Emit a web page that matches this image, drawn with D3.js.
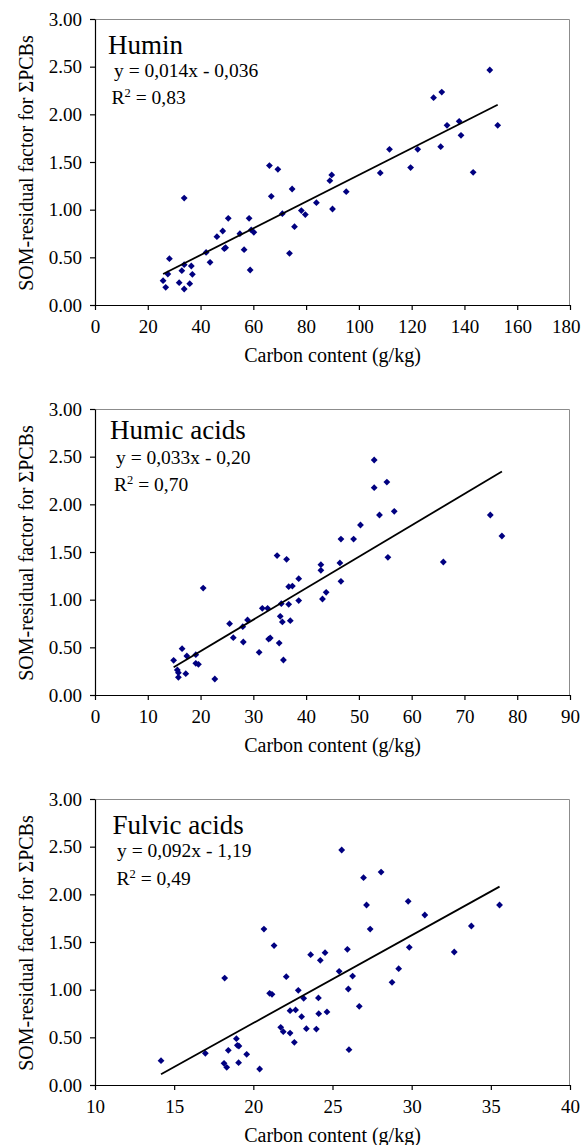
<!DOCTYPE html>
<html>
<head>
<meta charset="utf-8">
<script src="https://cdn.jsdelivr.net/npm/d3@7"></script>
<style>
  html, body { margin: 0; padding: 0; background: #fff; }
  svg { display: block; }
  text { font-family: "Liberation Serif", "Times New Roman", serif; fill: #000; }
</style>
</head>
<body>
<svg id="chart" width="581" height="1145"></svg>
<script>
// Humin fraction: carbon content (g/kg) vs SOM-residual factor
const huminX = [25.8, 26.8, 27.6, 28.2, 31.9, 32.9, 33.8, 33.8, 33.8, 35.9, 36.5, 36.9, 42.1, 43.6, 46.2, 48.4, 49.0, 49.5, 50.5, 54.9, 56.5, 58.4, 58.8, 59.2, 60.2, 66.1, 66.8, 69.3, 71.0, 73.7, 74.7, 75.6, 78.2, 79.7, 83.9, 89.0, 89.7, 90.0, 95.2, 108.1, 111.6, 119.6, 122.3, 128.3, 131.4, 131.0, 133.4, 138.0, 138.7, 143.3, 149.6, 152.6];
const huminY = [0.255, 0.185, 0.325, 0.486, 0.234, 0.36, 0.168, 0.423, 1.122, 0.224, 0.409, 0.322, 0.552, 0.448, 0.717, 0.776, 0.591, 0.601, 0.909, 0.748, 0.580, 0.909, 0.367, 0.787, 0.762, 1.462, 1.140, 1.423, 0.958, 0.542, 1.217, 0.822, 0.990, 0.948, 1.073, 1.304, 1.364, 1.007, 1.189, 1.385, 1.633, 1.441, 1.633, 2.175, 2.234, 1.661, 1.885, 1.927, 1.780, 1.392, 2.465, 1.885];

// Humic acids fraction
const humicX = [14.9, 15.6, 15.8, 15.8, 16.5, 17.2, 17.4, 19.1, 19.1, 19.6, 20.5, 22.7, 25.5, 26.2, 28.0, 28.1, 28.9, 31.1, 31.7, 32.7, 32.9, 33.2, 34.5, 34.9, 35.1, 35.3, 35.5, 35.7, 36.3, 36.7, 36.7, 37.4, 37.0, 38.6, 38.6, 42.8, 42.8, 43.1, 43.8, 46.4, 46.6, 46.6, 49.0, 50.3, 52.9, 52.9, 53.9, 55.3, 55.5, 56.7, 66.0, 74.9, 77.1];
const humicY = [0.364, 0.262, 0.234, 0.185, 0.486, 0.224, 0.409, 0.423, 0.332, 0.322, 1.122, 0.168, 0.748, 0.601, 0.717, 0.556, 0.787, 0.448, 0.909, 0.909, 0.587, 0.598, 1.462, 0.545, 0.825, 0.958, 0.766, 0.367, 1.423, 1.136, 0.951, 1.143, 0.780, 1.220, 0.990, 1.367, 1.308, 1.007, 1.077, 1.385, 1.192, 1.636, 1.636, 1.783, 2.465, 2.175, 1.888, 2.234, 1.444, 1.927, 1.395, 1.888, 1.668];

// Fulvic acids fraction
const fulvicX = [14.17, 16.97, 18.19, 18.15, 18.32, 18.42, 18.93, 18.99, 19.09, 19.07, 19.58, 20.40, 20.67, 21.03, 21.18, 21.31, 21.73, 21.89, 22.08, 22.32, 22.32, 22.59, 22.67, 22.84, 23.05, 23.18, 23.35, 23.62, 23.98, 24.11, 24.13, 24.23, 24.53, 24.65, 25.42, 25.58, 25.94, 26.00, 26.27, 26.04, 26.69, 26.96, 27.15, 27.38, 28.07, 28.76, 29.18, 29.78, 29.85, 30.83, 32.69, 33.77, 35.55];
const fulvicY = [0.255, 0.332, 1.122, 0.227, 0.185, 0.364, 0.486, 0.416, 0.409, 0.234, 0.322, 0.168, 1.636, 0.962, 0.951, 1.462, 0.605, 0.559, 1.136, 0.545, 0.780, 0.448, 0.787, 0.993, 0.717, 0.909, 0.591, 1.367, 0.587, 0.913, 0.748, 1.308, 1.388, 0.766, 1.192, 2.465, 1.423, 1.007, 1.143, 0.371, 0.825, 2.175, 1.888, 1.636, 2.234, 1.077, 1.220, 1.927, 1.444, 1.783, 1.395, 1.668, 1.888];

// Panel titles, regression coefficients and R² labels
const panelTitles = ["Humin", "Humic acids", "Fulvic acids"];
const slopes = [0.014, 0.033, 0.092];
const intercepts = [-0.036, -0.20, -1.19];
const equationLabels = ["y = 0,014x - 0,036", "y = 0,033x - 0,20", "y = 0,092x - 1,19"];
const r2Labels = ["0,83", "0,70", "0,49"];

// Axis ticks
const yTicks = [0, 0.5, 1, 1.5, 2, 2.5, 3];
const xTicksHumin = [0, 20, 40, 60, 80, 100, 120, 140, 160, 180];
const xTicksHumic = [0, 10, 20, 30, 40, 50, 60, 70, 80, 90];
const xTicksFulvic = [10, 15, 20, 25, 30, 35, 40];

const xLabel = "Carbon content (g/kg)";
const yLabel = "SOM-residual factor for \u03A3PCBs";

const panels = [
  { title: panelTitles[0], xs: huminX, ys: huminY, ticks: xTicksHumin, slope: slopes[0], intercept: intercepts[0], eq: equationLabels[0], r2: r2Labels[0],
    top: 19, titlePos: [13, 35], eqPos: [19, 57.5], r2Pos: [16.5, 85] },
  { title: panelTitles[1], xs: humicX, ys: humicY, ticks: xTicksHumic, slope: slopes[1], intercept: intercepts[1], eq: equationLabels[1], r2: r2Labels[1],
    top: 409, titlePos: [15, 30], eqPos: [21, 54.5], r2Pos: [19, 82] },
  { title: panelTitles[2], xs: fulvicX, ys: fulvicY, ticks: xTicksFulvic, slope: slopes[2], intercept: intercepts[2], eq: equationLabels[2], r2: r2Labels[2],
    top: 799, titlePos: [17.5, 35], eqPos: [22, 57.5], r2Pos: [21.5, 86] }
];

const svg = d3.select("#chart");
const width = 581;
const left = 95, plotW = 475, plotH = 286;
const fmtY = d3.format(".2f");

// Excel-style diamond marker (square rotated 45°)
const diamond = r => `M0,${-r}L${r},0L0,${r}L${-r},0Z`;

panels.forEach(p => {
  const g = svg.append("g").attr("transform", `translate(${left},${p.top})`);
  const x = d3.scaleLinear().domain(d3.extent(p.ticks)).range([0, plotW]);
  const y = d3.scaleLinear().domain([0, 3]).range([plotH, 0]);

  // plot-area frame (top and right edges)
  g.append("path")
    .attr("d", `M0,0.5H${plotW - 0.5}V${plotH}`)
    .attr("fill", "none").attr("stroke", "#8c8c8c").attr("stroke-width", 1);

  // y axis
  const yAxis = g.append("g").call(d3.axisLeft(y).tickValues(yTicks).tickFormat(fmtY).tickSizeInner(5).tickSizeOuter(0).tickPadding(8));
  // x axis
  const xAxis = g.append("g").attr("transform", `translate(0,${plotH})`)
    .call(d3.axisBottom(x).tickValues(p.ticks).tickFormat(d3.format("d")).tickSizeInner(5).tickSizeOuter(0).tickPadding(7));

  [yAxis, xAxis].forEach(a => {
    a.select(".domain").attr("stroke", "#000").attr("stroke-width", 1.2);
    a.selectAll(".tick line").attr("stroke", "#000").attr("stroke-width", 1.2);
    a.selectAll(".tick text").attr("font-size", 19).attr("fill", "#000");
  });
  xAxis.selectAll(".tick text").attr("dy", "0.85em");

  // keep the last tick label inside the canvas
  xAxis.selectAll(".tick").each(function (d) {
    const t = d3.select(this).select("text");
    const w = t.node().getComputedTextLength();
    const overflow = left + x(d) + w / 2 - (width - 1);
    if (overflow > 0) t.attr("dx", -overflow);
  });

  // points
  g.append("g").selectAll("path")
    .data(d3.range(p.xs.length))
    .join("path")
    .attr("transform", i => `translate(${x(p.xs[i])},${y(p.ys[i])})`)
    .attr("d", diamond(3.4))
    .attr("fill", "#000080");

  // linear trendline from the stated equation
  const [xMin, xMax] = d3.extent(p.xs);
  const line = d3.line().x(d => x(d)).y(d => y(p.slope * d + p.intercept));
  g.append("path")
    .attr("d", line([xMin, xMax]))
    .attr("fill", "none").attr("stroke", "#000").attr("stroke-width", 1.8);

  // labels inside plot
  g.append("text").attr("x", p.titlePos[0]).attr("y", p.titlePos[1])
    .attr("font-size", 27).text(p.title);
  g.append("text").attr("x", p.eqPos[0]).attr("y", p.eqPos[1])
    .attr("font-size", 19.5).text(p.eq);
  const r2 = g.append("text").attr("x", p.r2Pos[0]).attr("y", p.r2Pos[1]).attr("font-size", 19.5);
  r2.append("tspan").text("R");
  r2.append("tspan").attr("font-size", 12.5).attr("dy", -7).text("2");
  r2.append("tspan").attr("dy", 7).text(" = " + p.r2);

  // axis titles
  g.append("text")
    .attr("x", plotW / 2).attr("y", plotH + 56.5)
    .attr("text-anchor", "middle").attr("font-size", 20)
    .text(xLabel);
  g.append("text")
    .attr("transform", `translate(${33 - left},${plotH / 2 + 1}) rotate(-90)`)
    .attr("text-anchor", "middle").attr("font-size", 20)
    .text(yLabel);
});
</script>
</body>
</html>
